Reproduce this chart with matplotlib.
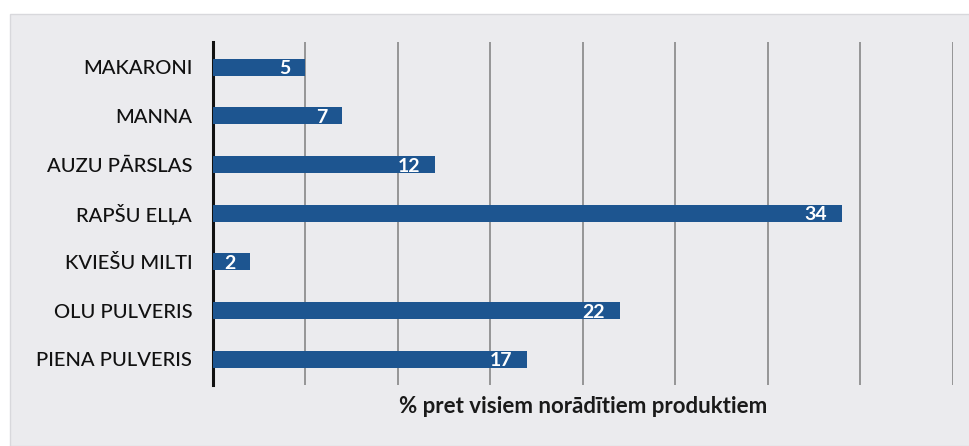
import matplotlib.pyplot as plt
from matplotlib.patches import Rectangle

plt.rcParams['font.family'] = ['Lato', 'DejaVu Sans']

products = ['MAKARONI', 'MANNA', 'AUZU PĀRSLAS', 'RAPŠU ELĻA',
            'KVIEŠU MILTI', 'OLU PULVERIS', 'PIENA PULVERIS']
percent = [5, 7, 12, 34, 2, 22, 17]
xlabel_text = '% pret visiem norādītiem produktiem'

bar_color = '#1d5590'
bg_color = '#ebebee'

fig = plt.figure(figsize=(9.70, 4.46), dpi=100)
fig.patch.set_facecolor('white')
# scanned panel background
fig.patches.append(Rectangle((10 / 970, 0), 1, 1 - 14 / 446,
                             transform=fig.transFigure, facecolor=bg_color,
                             edgecolor='#d8d8dc', linewidth=1, zorder=-10))

ax = fig.add_axes([213 / 970, 1 - 385 / 446, 740 / 970, 343 / 446])
ax.set_zorder(1)
ax.set_facecolor('none')

y = list(range(len(products)))
ax.barh(y, percent, height=0.35, color=bar_color, zorder=3)

for yi, v in zip(y, percent):
    ax.text(v - 0.8, yi + 0.03, str(v), ha='right', va='center',
            color='white', fontsize=14, fontweight='bold', zorder=4)

ax.set_xlim(0, 40)
ax.set_ylim(6.53, -0.52)
ax.set_yticks(y)
ax.set_yticklabels(products, fontsize=14.5, color='#111111',
                   fontweight='medium')
ax.tick_params(axis='y', length=0, pad=15)
ax.set_xticks(range(5, 41, 5))
ax.tick_params(axis='x', length=0, labelbottom=False)
ax.grid(axis='x', color='#8f8f8f', linewidth=1.3, zorder=1)

for s in ['top', 'right', 'bottom']:
    ax.spines[s].set_visible(False)
ax.spines['left'].set_linewidth(2.2)
ax.spines['left'].set_color('#111111')

ax.set_xlabel(xlabel_text, fontsize=16, fontweight='bold', color='#1a1a1a',
              labelpad=8)

fig.savefig('out.png', dpi=100)
